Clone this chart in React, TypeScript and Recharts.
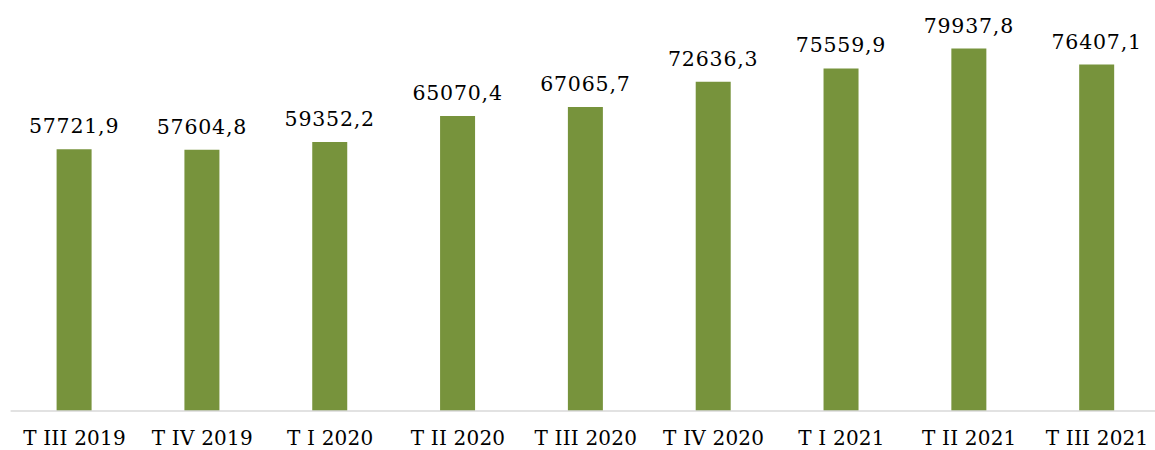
import React from "react";
import { BarChart, Bar, XAxis, YAxis, LabelList } from "recharts";

const categories = ["T III 2019", "T IV 2019", "T I 2020", "T II 2020", "T III 2020", "T IV 2020", "T I 2021", "T II 2021", "T III 2021"];
const values = [57721.9, 57604.8, 59352.2, 65070.4, 67065.7, 72636.3, 75559.9, 79937.8, 76407.1];

const data = categories.map((c, i) => ({ name: c, value: values[i] }));

const FONT = "'DejaVu Serif', serif";

const fmt = (v: number) => v.toFixed(1).replace(".", ",");

const Tick = (props: any) => {
  const { x, payload } = props;
  return (
    <text x={x} y={445} textAnchor="middle" fontFamily={FONT} fontSize={20} fill="#000" letterSpacing={0.2}>
      {payload.value}
    </text>
  );
};

const Label = (props: any) => {
  const { x, y, width, value } = props;
  return (
    <text x={x + width / 2} y={y - 16} textAnchor="middle" fontFamily={FONT} fontSize={20.5} fill="#000" letterSpacing={0.8}>
      {fmt(value)}
    </text>
  );
};

export default function App() {
  return (
    <div style={{ position: "absolute", left: 0, top: 0, width: 1155, height: 450, overflow: "hidden", background: "#fff" }}>
      <BarChart width={1161} height={450} data={data} margin={{ top: 3, right: 0, bottom: 0, left: 10.6 }} barSize={35}>
        <XAxis dataKey="name" height={39} axisLine={{ stroke: "#D9D9D9", strokeWidth: 1.5 }} tickLine={false} tick={<Tick />} interval={0} />
        <YAxis hide domain={[0, 90000]} />
        <Bar dataKey="value" fill="#77933C" isAnimationActive={false}>
          <LabelList dataKey="value" content={<Label />} />
        </Bar>
      </BarChart>
    </div>
  );
}
